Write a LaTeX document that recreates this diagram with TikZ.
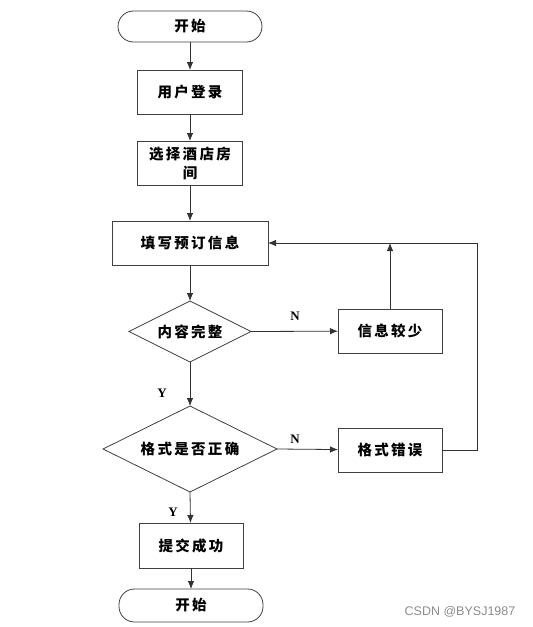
\documentclass[tikz,border=0pt]{standalone}
\usepackage{fontspec}
\setmainfont{Liberation Serif}
\newfontfamily\cjk[LetterSpace=16]{Noto Sans CJK SC}
\newfontfamily\wmfont{Liberation Sans}
\usetikzlibrary{shapes.geometric,arrows.meta}
\begin{document}
\begin{tikzpicture}[x=1pt,y=-1pt,
  every node/.style={inner sep=0pt, outer sep=0pt},
  lbl/.style={font=\cjk\bfseries\fontsize{14.5}{19}\selectfont, text=black, align=center},
  proc/.style={lbl, draw=black!75, line width=0.8pt, fill=white},
  term/.style={lbl, draw=black!75, line width=0.8pt, rounded corners=15.5pt},
  yn/.style={font=\bfseries\fontsize{13}{15}\selectfont},
  conn/.style={draw=black!80, line width=0.8pt, -{Latex[length=8pt,width=6.5pt]}}
]
\useasboundingbox (0,0) rectangle (533,627);
% nodes
\node[term, minimum width=144pt, minimum height=31pt] (start) at (190,26.5) {开始};
\node[proc, minimum width=105pt, minimum height=44pt] (login) at (190,92) {用户登录};
\node[proc, minimum width=105pt, minimum height=44pt] (room) at (190,163) {选择酒店房\\间};
\node[proc, minimum width=156pt, minimum height=44pt] (fill) at (190,243) {填写预订信息};
\node[lbl] (d1t) at (190,331.5) {内容完整};
\path[draw=black!75, line width=0.8pt] (129,331.5) -- (190,301) -- (251,331.5) -- (190,362) -- cycle;
\coordinate (d1top) at (190,301);
\coordinate (d1bot) at (190,362);
\coordinate (d1right) at (251,331.5);
\node[proc, minimum width=104pt, minimum height=44pt] (less) at (390,331) {信息较少};
\node[lbl] (d2t) at (190,449) {格式是否正确};
\path[draw=black!75, line width=0.8pt] (103,449) -- (190,406) -- (277,449) -- (190,492) -- cycle;
\coordinate (d2top) at (190,406);
\coordinate (d2bot) at (190,492);
\coordinate (d2right) at (277,449);
\node[proc, minimum width=104pt, minimum height=44pt] (err) at (390,450) {格式错误};
\node[proc, minimum width=104pt, minimum height=45pt] (ok) at (191,545.5) {提交成功};
\node[term, minimum width=144pt, minimum height=33pt] (end) at (191,605.5) {开始};
% labels
\node[yn] (n1) at (295,316) {N};
\node[yn] (n2) at (295,439) {N};
\node[yn] (y1) at (162,393) {Y};
\node[yn] (y2) at (173,512) {Y};
\node[font=\wmfont\fontsize{12.5}{14}\selectfont, text=black!45] (wm) at (460,612) {CSDN @BYSJ1987};
% connectors
\coordinate (loopc) at (477,450);
\coordinate (loopt) at (477,243);
\coordinate (mid) at (390,243);
\draw[conn] (start) -- (login);
\draw[conn] (login) -- (room);
\draw[conn] (room) -- (fill);
\draw[conn] (fill) -- (d1top);
\draw[conn] (d1right) -- (less);
\draw[conn] (d1bot) -- (d2top);
\draw[conn] (d2right) -- (err);
\draw[conn] (d2bot) -- (190.5,523);
\draw[conn] (ok) -- (end);
\draw[conn] (less) -- (mid);
\draw[conn] (err.east) -- (loopc) -- (loopt) -- (fill.east);
\end{tikzpicture}
\end{document}
